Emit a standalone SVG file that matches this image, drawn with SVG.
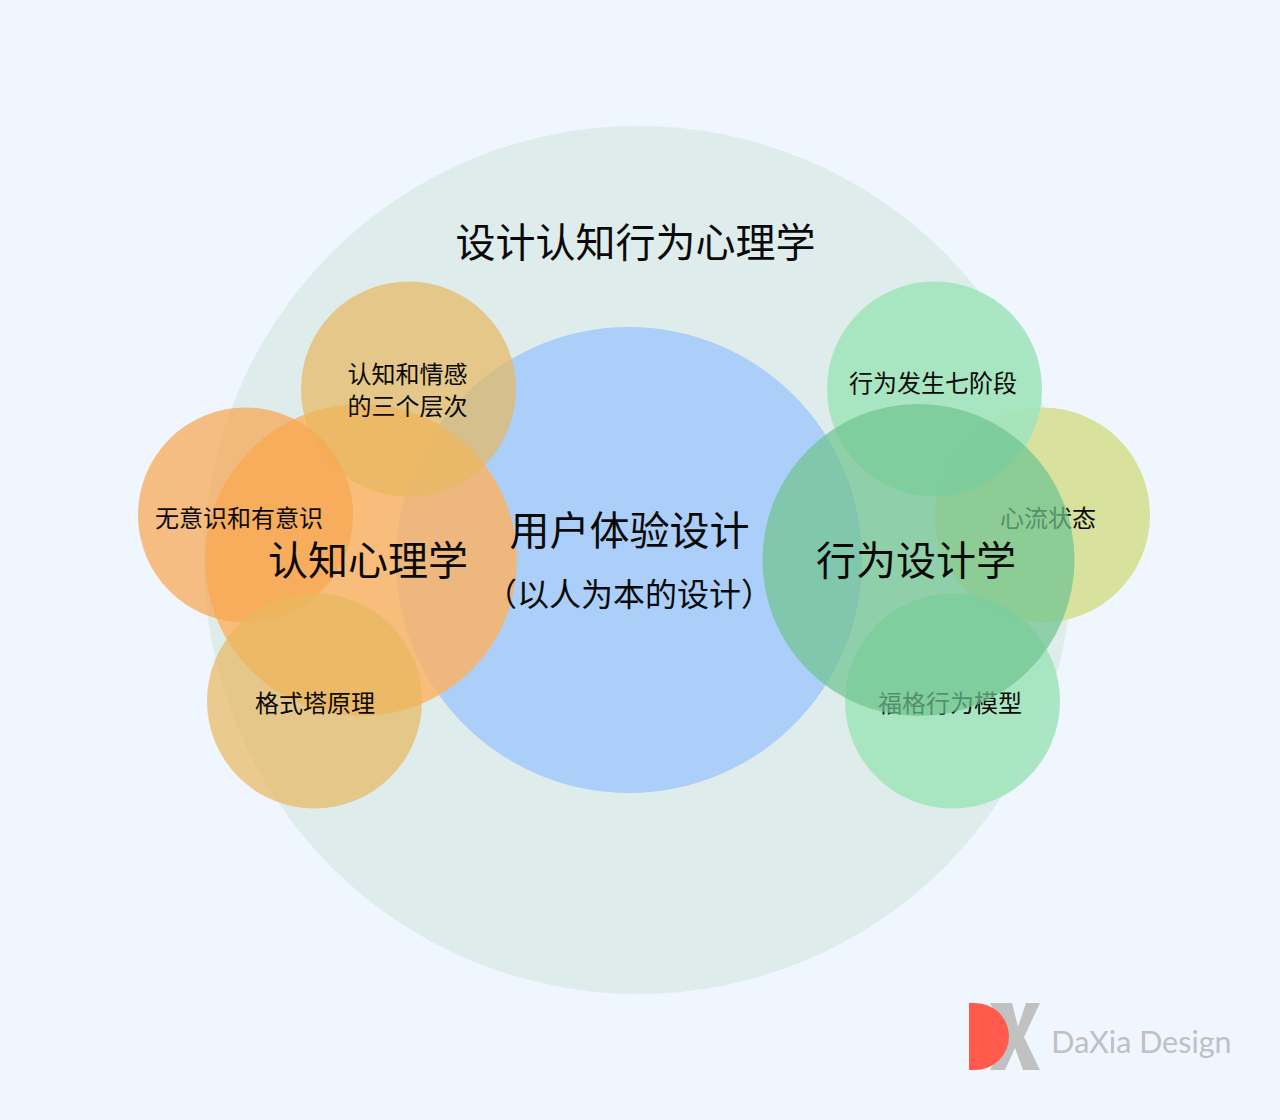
<svg xmlns="http://www.w3.org/2000/svg" width="1280" height="1120" viewBox="0 0 1280 1120">
<style>
text{font-family:"Noto Sans CJK SC","Noto Sans",sans-serif;fill:#0a0a0a;text-anchor:middle;font-weight:400}
.s{font-size:24px}.m{font-size:40px}.p{font-size:32px}
.so{fill:#e7b860;fill-opacity:.7}.sl{fill:#f6a650;fill-opacity:.72}
.sg{fill:#a2e4bc;fill-opacity:.9}.sy{fill:#d8e29d}
.bo{fill:#ffb05a;fill-opacity:.78}.bg{fill:#70c490;fill-opacity:.72}
</style>
<rect width="1280" height="1120" fill="#f0f6fd"/>
<g id="outer"><circle cx="638" cy="560" r="434" fill="#dfecec"/><text class="m" x="635.500" y="256.500">设计认知行为心理学</text></g>
<g id="center"><circle cx="629" cy="560" r="233" fill="#abcff8"/></g>
<g id="cognitive"><circle class="bo" cx="361" cy="560" r="156"/></g>
<g id="n-levels"><circle class="so" cx="408.500" cy="389" r="107.500"/><text class="s" x="407.500" y="383">认知和情感</text><text class="s" x="407.500" y="415">的三个层次</text></g>
<g id="n-conscious"><circle class="sl" cx="245.500" cy="515" r="107.500"/><text class="s" x="239" y="527">无意识和有意识</text></g>
<g id="n-gestalt"><circle class="so" cx="314.500" cy="701" r="107.500"/><text class="s" x="315" y="712">格式塔原理</text></g>
<g id="n-flow"><circle class="sy" cx="1042.500" cy="515" r="107.500"/><text class="s" x="1048" y="527">心流状态</text></g>
<g id="n-stages"><circle class="sg" cx="934.500" cy="389" r="107.500"/><text class="s" x="933" y="392">行为发生七阶段</text></g>
<g id="n-fogg"><circle class="sg" cx="952.500" cy="701" r="107.500"/><text class="s" x="950" y="712">福格行为模型</text></g>
<g id="behavior"><circle class="bg" cx="918.500" cy="560" r="156"/><text class="m" x="916" y="575">行为设计学</text></g>
<g id="labels"><text class="m" x="368" y="574.500">认知心理学</text><text class="m" x="629.500" y="545">用户体验设计</text><text class="p" x="629" y="606">（以人为本的设计）</text></g>
<g id="logo"><polygon fill="#c1c1c1" points="990,1003 1012,1003 1018,1027 1026,1003 1040,1003 1024,1037 1040,1070 1023,1070 1015,1048 1005,1070 990,1070 1008,1036"/><path fill="#ff5a4c" d="M969 1003H975A34 33.500 0 0 1 975 1070H969Z"/><text x="1141.500" y="1053" style="font-family:Lato,sans-serif;font-size:30.500px;fill:#bcc1c6">DaXia Design</text></g>
</svg>
